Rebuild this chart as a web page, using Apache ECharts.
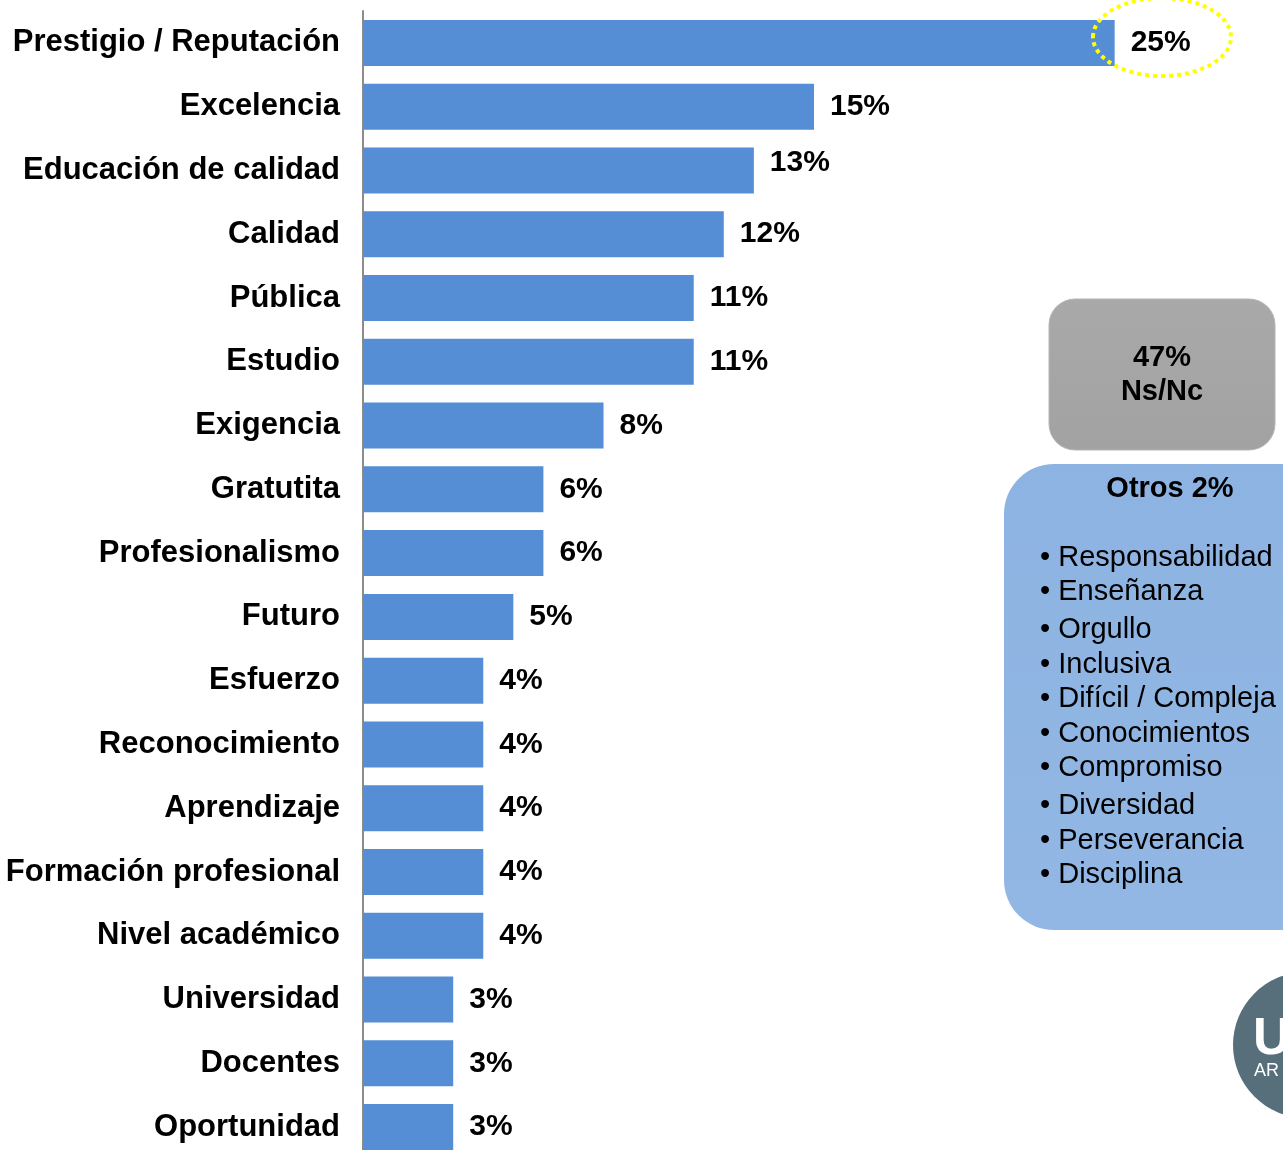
<!DOCTYPE html>
<html>
<head>
<meta charset="utf-8">
<title>Atributos</title>
<script src="https://cdn.jsdelivr.net/npm/echarts@6/dist/echarts.min.js"></script>
<style>
  html, body { margin: 0; padding: 0; background: #fff; overflow: hidden; }
  #chart { width: 1283px; height: 1160px; }
</style>
</head>
<body>
<div id="chart"></div>
<script>
// categorías, de arriba hacia abajo
const categorias = ['Prestigio / Reputación', 'Excelencia', 'Educación de calidad', 'Calidad', 'Pública',
  'Estudio', 'Exigencia', 'Gratutita', 'Profesionalismo', 'Futuro', 'Esfuerzo', 'Reconocimiento',
  'Aprendizaje', 'Formación profesional', 'Nivel académico', 'Universidad', 'Docentes', 'Oportunidad']
// porcentajes
const valores = [25, 15, 13, 12, 11, 11, 8, 6, 6, 5, 4, 4, 4, 4, 4, 3, 3, 3]
// recuadros de la derecha
const nsnc = ['47%', 'Ns/Nc']
const otrosTitulo = 'Otros 2%'
const otros = ['Responsabilidad', 'Enseñanza', 'Orgullo', 'Inclusiva', 'Difícil / Compleja',
  'Conocimientos', 'Compromiso', 'Diversidad', 'Perseverancia', 'Disciplina']

const FONT = '"Liberation Sans", Arial, sans-serif'
const chart = echarts.init(document.getElementById('chart'))

const listaY = [558, 592, 630, 665, 699, 734, 768, 806, 841, 875] // centro de cada renglón
const otrosTexto = otros.map((t, i) => ({
  type: 'text', x: 1040, y: listaY[i],
  style: { text: '• ' + t, font: '29px ' + FONT, fill: '#000', verticalAlign: 'middle' }
}))

const option = {
  animation: false,
  grid: { left: 363, top: 11, width: 902, height: 1148, containLabel: false },
  xAxis: {
    type: 'value', min: 0, max: 30, show: false
  },
  yAxis: {
    type: 'category',
    inverse: true,
    data: categorias,
    axisLine: { lineStyle: { color: '#8c8c8c', width: 2 } },
    axisTick: { length: 6, lineStyle: { color: '#8c8c8c', width: 2 } },
    axisLabel: { color: '#000', fontSize: 31, fontWeight: 'bold', fontFamily: FONT, margin: 23 }
  },
  series: [{
    type: 'bar',
    data: valores.map((v, i) => i === 2
      ? { value: v, label: { offset: [0, -8] } }
      : v),
    barWidth: 46,
    itemStyle: { color: '#558ed5' },
    label: {
      show: true, position: 'right', distance: 16,
      formatter: '{c}%', color: '#000', fontSize: 30, fontWeight: 'bold', fontFamily: FONT
    }
  }],
  graphic: [
    // óvalo punteado amarillo sobre el 25%
    {
      type: 'ellipse', shape: { cx: 1162, cy: 37, rx: 69, ry: 39 },
      style: { fill: 'none', stroke: '#ffff00', lineWidth: 4, lineDash: [4, 4] }, z: 100
    },
    // recuadro Ns/Nc
    {
      type: 'rect', shape: { x: 1049, y: 299, width: 226, height: 151, r: 26 },
      style: {
        fill: new echarts.graphic.LinearGradient(0, 0, 0, 1, [
          { offset: 0, color: '#a9a9a9' }, { offset: 1, color: '#a2a2a2' }
        ]),
        stroke: '#b5b5b5', lineWidth: 1
      }
    },
    {
      type: 'text', x: 1162, y: 375,
      style: {
        text: nsnc.join('\n'), font: 'bold 29px ' + FONT, fill: '#000',
        align: 'center', verticalAlign: 'middle', lineHeight: 34
      }
    },
    // recuadro Otros
    {
      type: 'rect', shape: { x: 1004, y: 464, width: 330, height: 466, r: 50 },
      style: {
        fill: new echarts.graphic.LinearGradient(0, 0, 0, 1, [
          { offset: 0, color: '#8db3e2' }, { offset: 1, color: '#92b7e4' }
        ])
      }
    },
    {
      type: 'text', x: 1170, y: 489,
      style: { text: otrosTitulo, font: 'bold 29px ' + FONT, fill: '#000', align: 'center', verticalAlign: 'middle' }
    },
    ...otrosTexto,
    // logo recortado abajo a la derecha
    {
      type: 'circle', shape: { cx: 1306, cy: 1045, r: 73 },
      style: { fill: '#566f7b' }
    },
    {
      type: 'text', x: 1253, y: 1014,
      style: { text: 'U', font: 'bold 52px ' + FONT, fill: '#fff' }
    },
    {
      type: 'text', x: 1254, y: 1062,
      style: { text: 'AR', font: '18px ' + FONT, fill: '#fff' }
    }
  ]
}
chart.setOption(option)
</script>
</body>
</html>
